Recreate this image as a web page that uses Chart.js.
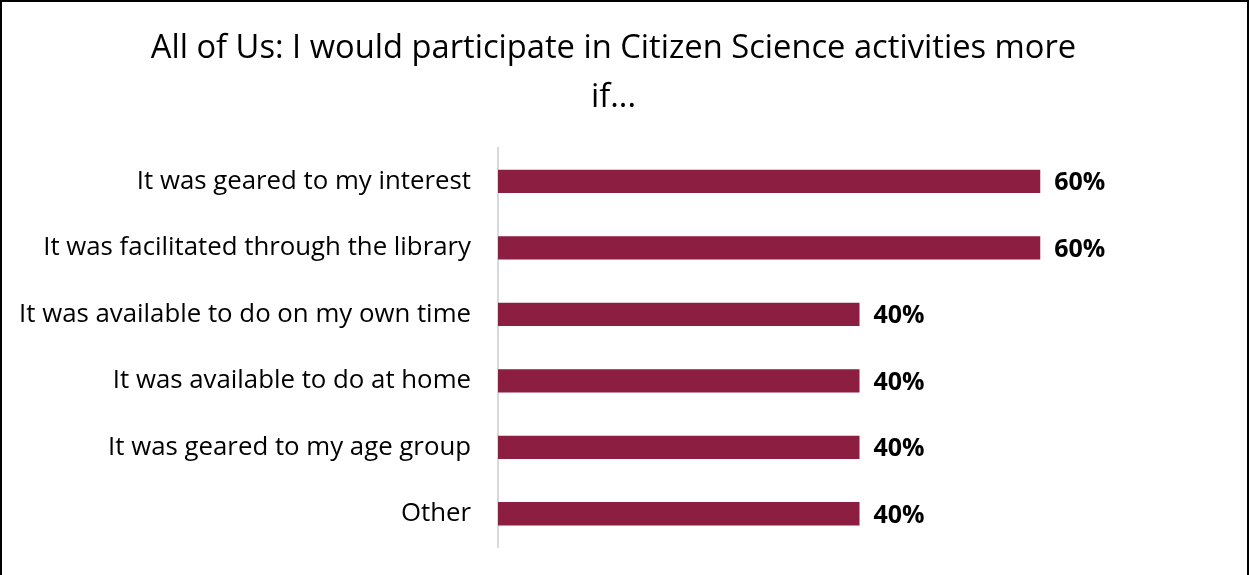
<!DOCTYPE html>
<html>
<head>
<meta charset="utf-8">
<script src="https://cdn.jsdelivr.net/npm/chart.js@4"></script>
<style>
    body { margin: 0; background: #fff; }
    #wrap { width: 1249px; height: 575px; box-sizing: border-box; border: 2px solid #000; border-bottom: none; }
</style>
</head>
<body>
<div id="wrap"><canvas id="barChart"></canvas></div>
<script>
var titleLines = ['All of Us: I would participate in Citizen Science activities more', 'if...'];
var labels = [
    'It was geared to my interest',
    'It was facilitated through the library',
    'It was available to do on my own time',
    'It was available to do at home',
    'It was geared to my age group',
    'Other'
];
var values = [60, 60, 40, 40, 40, 40];
var axisMax = 80;

// draws the bold % labels after each bar
var valueLabels = {
    id: 'valueLabels',
    afterDatasetsDraw: function(chart) {
        var ctx = chart.ctx;
        var meta = chart.getDatasetMeta(0);
        ctx.save();
        ctx.font = 'bold 25px "Open Sans"';
        ctx.fillStyle = '#000';
        ctx.textBaseline = 'middle';
        ctx.textAlign = 'left';
        meta.data.forEach(function(bar, i) {
            ctx.fillText(values[i] + '%', bar.x + 14, bar.y + 2);
        });
        ctx.restore();
    }
};

var ctx = document.getElementById('barChart').getContext('2d');
var barChart = new Chart(ctx, {
    type: 'bar',
    data: {
        labels: labels,
        datasets: [{
            data: values,
            backgroundColor: '#8b1e41',
            barPercentage: 0.35,
            categoryPercentage: 1
        }]
    },
    options: {
        indexAxis: 'y',
        responsive: true,
        maintainAspectRatio: false,
        animation: false,
        layout: { padding: { left: 4, right: 26, bottom: 28 } },
        plugins: {
            legend: { display: false },
            tooltip: { enabled: false },
            title: {
                display: true,
                text: titleLines,
                color: '#000',
                font: { family: '"Open Sans"', size: 32.7, weight: 'normal', lineHeight: 1.5 },
                padding: { top: 22, bottom: 26 }
            }
        },
        scales: {
            x: {
                display: false,
                min: 0,
                max: axisMax
            },
            y: {
                grid: { display: false },
                border: { color: '#d9d9d9', width: 2 },
                ticks: {
                    color: '#000',
                    padding: 19,
                    font: { family: '"Open Sans"', size: 25.8 }
                },
                afterFit: function(scale) {
                    scale.width = 492;
                    scale.paddingTop = 0;
                    scale.paddingBottom = 0;
                }
            }
        }
    },
    plugins: [valueLabels]
});
</script>
</body>
</html>
